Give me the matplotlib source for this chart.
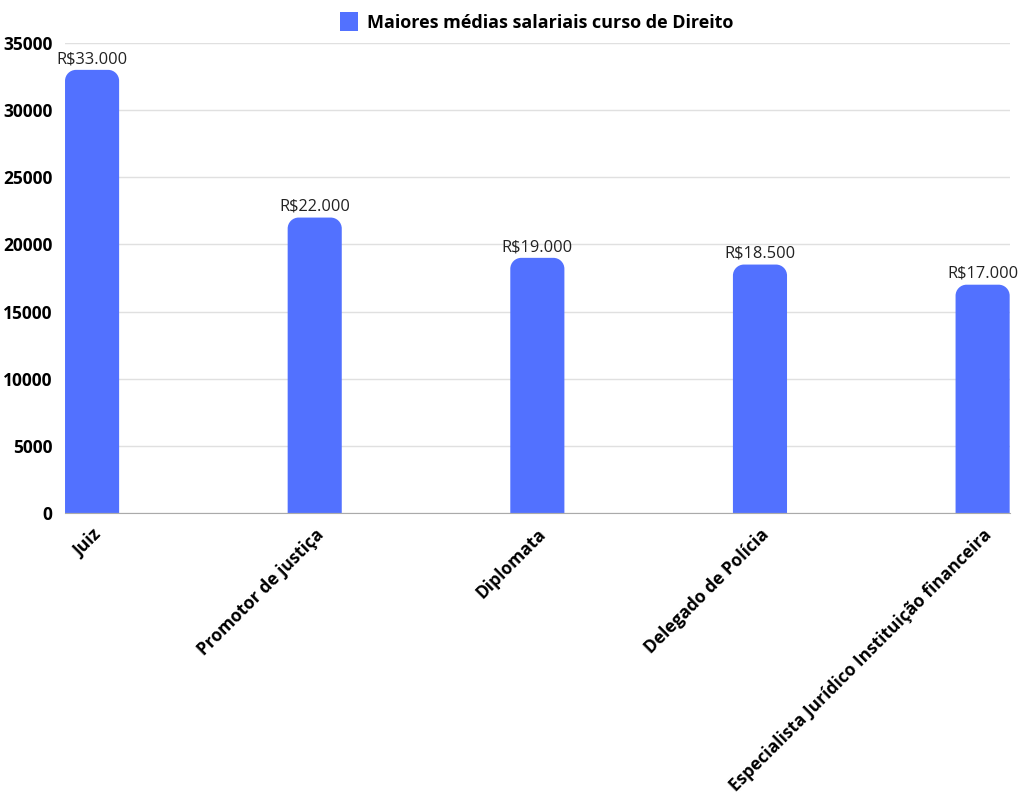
import matplotlib
matplotlib.use("Agg")
import matplotlib.pyplot as plt
from matplotlib.path import Path
from matplotlib.patches import PathPatch, Patch

categories = ["Juiz", "Promotor de justiça", "Diplomata", "Delegado de Polícia",
              "Especialista Jurídico Instituição financeira"]
values = [33000, 22000, 19000, 18500, 17000]
value_labels = ["R$33.000", "R$22.000", "R$19.000", "R$18.500", "R$17.000"]
series_name = "Maiores médias salariais curso de Direito"
yticks = [0, 5000, 10000, 15000, 20000, 25000, 30000, 35000]

color = "#5271FF"
plt.rcParams['font.family'] = ['Open Sans', 'DejaVu Sans']

fig = plt.figure(figsize=(10.24, 8.01), dpi=100)
ax = fig.add_axes([0.0635, 0.3596, 0.9225, 0.5867])
w = 0.243
x = list(range(len(categories)))
bars = ax.bar(x, values, width=w, color=color, label=series_name, zorder=3)
ax.set_xlim(-w / 2, len(categories) - 1 + w / 2)
ax.set_ylim(0, 35000)

fig.canvas.draw()
tr = ax.transData
r_px = 11
p0 = tr.transform((0, 0))
p1 = tr.transform((1, 1))
rx = r_px / (p1[0] - p0[0])
ry = r_px / (p1[1] - p0[1])
k = 0.5523
for b in bars:
    x0 = b.get_x(); x1 = x0 + b.get_width(); h = b.get_height()
    verts = [(x0, 0), (x0, h - ry),
             (x0, h - ry + k * ry), (x0 + rx - k * rx, h), (x0 + rx, h),
             (x1 - rx, h),
             (x1 - rx + k * rx, h), (x1, h - ry + k * ry), (x1, h - ry),
             (x1, 0), (x0, 0)]
    codes = [Path.MOVETO, Path.LINETO,
             Path.CURVE4, Path.CURVE4, Path.CURVE4,
             Path.LINETO,
             Path.CURVE4, Path.CURVE4, Path.CURVE4,
             Path.LINETO, Path.CLOSEPOLY]
    ax.add_patch(PathPatch(Path(verts, codes), facecolor=color, edgecolor='none', zorder=3))
    b.set_visible(False)

for xi, v, lab in zip(x, values, value_labels):
    ax.annotate(lab, (xi, v), xytext=(0, 2), textcoords='offset points',
                ha='center', va='bottom', fontsize=11.8, color='#222222')

ax.set_yticks(yticks)
ax.set_yticklabels([str(t) for t in yticks], fontsize=12.5, fontweight='bold')
ax.set_xticks(x)
ax.set_xticklabels(categories, rotation=45, ha='right', rotation_mode='anchor',
                   fontsize=12.5, fontweight='bold')
ax.tick_params(axis='both', length=0)
ax.tick_params(axis='y', pad=9)
ax.tick_params(axis='x', pad=9)
ax.grid(axis='y', color='#e0e0e0', linewidth=1, zorder=0)
for s in ['top', 'right', 'left']:
    ax.spines[s].set_visible(False)
ax.spines['bottom'].set_color('#aaaaaa')
ax.spines['bottom'].set_zorder(4)

leg = fig.legend(handles=[Patch(facecolor=color, label=series_name)],
                 loc='center', bbox_to_anchor=(0.524, 0.973), frameon=False,
                 prop={'size': 13, 'weight': 'bold'}, handlelength=1.0, handleheight=1.3,
                 handletextpad=0.5)

fig.savefig("out.png", dpi=100, facecolor='white')
